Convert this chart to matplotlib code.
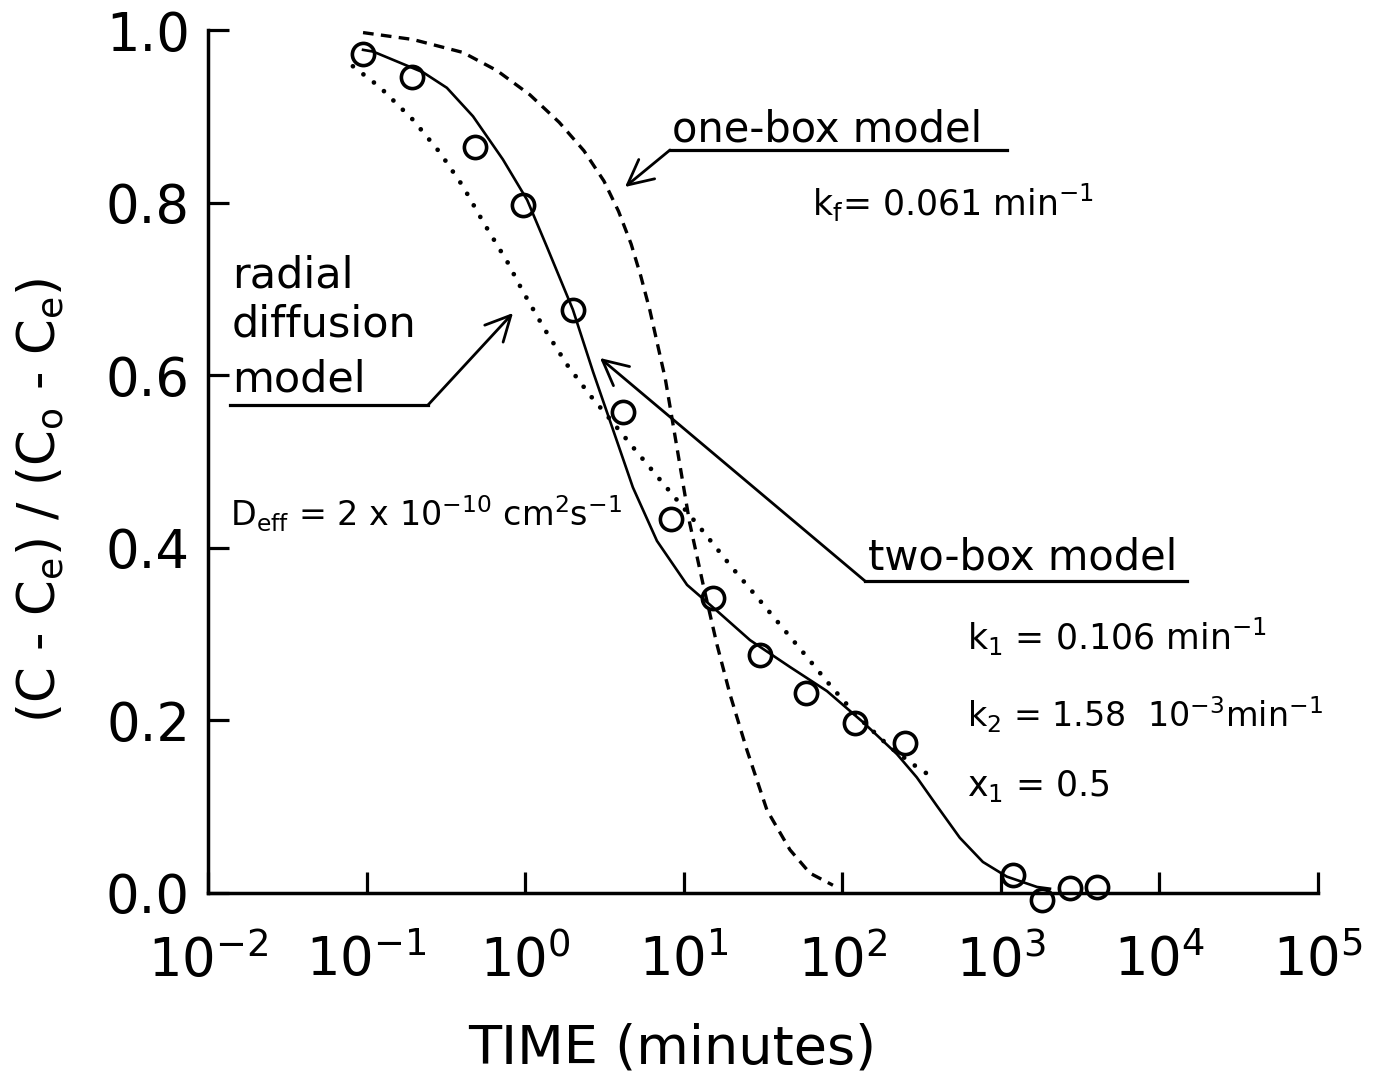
import matplotlib
matplotlib.use("Agg")
import matplotlib.pyplot as plt
from matplotlib.lines import Line2D
from matplotlib.ticker import NullLocator, FixedLocator

plt.rcParams['font.family'] = ['DejaVu Sans']
plt.rcParams['mathtext.fontset'] = 'dejavusans'

# Measured data: normalized concentration vs time (minutes)
obs_time = [0.095, 0.193, 0.482, 0.968, 2.0, 4.14, 8.3, 15.3, 30.2, 58.9,
            120, 248, 1190, 1810, 2720, 4030]
obs_conc = [0.972, 0.946, 0.865, 0.797, 0.675, 0.557, 0.433, 0.342, 0.276,
            0.232, 0.197, 0.174, 0.021, -0.008, 0.006, 0.007]

# One-box model (kf = 0.061 1/min)
onebox_time = [0.095, 0.196, 0.405, 0.664, 1.07, 1.64, 2.35, 3.14, 3.88, 4.66,
               5.36, 6.12, 6.87, 7.65, 8.35, 10.9, 13.2, 16.2, 19.6, 25.0,
               33.5, 46.8, 62.5, 87.3]
onebox_conc = [0.997, 0.989, 0.974, 0.953, 0.925, 0.893, 0.860, 0.825, 0.790,
               0.752, 0.715, 0.675, 0.634, 0.596, 0.555, 0.429, 0.359, 0.288,
               0.230, 0.166, 0.096, 0.050, 0.023, 0.009]

# Two-box model (k1, k2, x1)
twobox_time = [0.095, 0.110, 0.158, 0.227, 0.321, 0.469, 0.724, 1.03, 1.37,
               2.0, 2.68, 3.58, 4.78, 6.78, 10.5, 16.2, 26.2, 46.7, 80.0, 135,
               221, 295, 395, 551, 770, 1090, 1690, 2040]
twobox_conc = [0.977, 0.975, 0.963, 0.951, 0.933, 0.900, 0.850, 0.803, 0.749,
               0.676, 0.604, 0.537, 0.470, 0.408, 0.357, 0.327, 0.293, 0.262,
               0.234, 0.198, 0.161, 0.134, 0.101, 0.064, 0.036, 0.019, 0.007,
               0.005]

# Radial diffusion model (Deff = 2e-10 cm2/s)
radial_time = [0.082, 0.121, 0.196, 0.290, 0.405, 0.542, 0.774, 0.968, 1.33,
               1.84, 2.56, 3.58, 5.07, 7.08, 12.6, 20.2, 30.2, 46.8, 56.5,
               83.6, 124, 200, 295, 394]
radial_conc = [0.958, 0.934, 0.896, 0.858, 0.819, 0.778, 0.731, 0.697, 0.653,
               0.612, 0.577, 0.545, 0.511, 0.479, 0.424, 0.377, 0.339, 0.297,
               0.279, 0.241, 0.205, 0.169, 0.146, 0.131]

x_ticks = [1e-2, 1e-1, 1e0, 1e1, 1e2, 1e3, 1e4, 1e5]
x_ticklabels = [r'$10^{-2}$', r'$10^{-1}$', r'$10^{0}$', r'$10^{1}$',
                r'$10^{2}$', r'$10^{3}$', r'$10^{4}$', r'$10^{5}$']
y_ticks = [0.0, 0.2, 0.4, 0.6, 0.8, 1.0]
y_ticklabels = ['0.0', '0.2', '0.4', '0.6', '0.8', '1.0']

W, H = 1381, 1073
fig = plt.figure(figsize=(W / 100, H / 100), dpi=100)


def fx(px):
    return px / W


def fy(py):
    return 1 - py / H


ax = fig.add_axes([fx(208), fy(893), (1318 - 208) / W, (893 - 30) / H])
ax.set_xscale('log')
ax.set_xlim(1e-2, 1e5)
ax.set_ylim(0.0, 1.0)

ax.plot(onebox_time, onebox_conc, color='black', lw=2.4,
        linestyle=(0, (3.2, 2.2)), clip_on=False)
ax.plot(twobox_time, twobox_conc, color='black', lw=1.9, clip_on=False,
        solid_joinstyle='round')
ax.plot(radial_time, radial_conc, color='black', lw=3.4,
        linestyle=(0, (0.01, 2.8)), dash_capstyle='round', clip_on=False)
ax.plot(obs_time, obs_conc, linestyle='none', marker='o', ms=16,
        mfc='none', mec='black', mew=2.6, clip_on=False)

for side in ('top', 'right'):
    ax.spines[side].set_visible(False)
for side in ('left', 'bottom'):
    ax.spines[side].set_linewidth(2.5)

ax.xaxis.set_major_locator(FixedLocator(x_ticks))
ax.xaxis.set_minor_locator(NullLocator())
ax.set_xticklabels(x_ticklabels)
ax.set_yticks(y_ticks)
ax.set_yticklabels(y_ticklabels)
ax.tick_params(axis='both', direction='in', length=15, width=2.3,
               labelsize=38)
ax.tick_params(axis='y', pad=13)
ax.tick_params(axis='x', pad=30)

fig.text(fx(40), fy(500),
         r'(C - C$_\mathregular{e}$) / (C$_\mathregular{o}$ - C$_\mathregular{e}$)',
         rotation=90, ha='center', va='center', fontsize=37)
fig.text(fx(672), fy(1048), 'TIME (minutes)', ha='center', va='center',
         fontsize=39)


def underline(x0, x1, y):
    fig.add_artist(Line2D([fx(x0), fx(x1)], [fy(y), fy(y)],
                          transform=fig.transFigure, lw=2.3, color='black'))


def leader(start, tip):
    ax.annotate('', xy=(fx(tip[0]), fy(tip[1])), xycoords='figure fraction',
                xytext=(fx(start[0]), fy(start[1])), textcoords='figure fraction',
                arrowprops=dict(arrowstyle='->,head_length=0.9,head_width=0.45',
                                lw=2.0, color='black', shrinkA=0, shrinkB=0,
                                mutation_scale=20))


# one-box label
fig.text(fx(672), fy(142), 'one-box model', fontsize=30, ha='left',
         va='baseline')
underline(670, 1007, 150)
leader((670, 150), (625, 187))
fig.text(fx(812), fy(216), r'k$_\mathregular{f}$= 0.061 min$^\mathregular{-1}$',
         fontsize=25, ha='left', va='baseline')

# radial diffusion label
fig.text(fx(232), fy(288), 'radial', fontsize=31, ha='left', va='baseline')
fig.text(fx(232), fy(336), 'diffusion', fontsize=31, ha='left', va='baseline')
fig.text(fx(232), fy(392), 'model', fontsize=31, ha='left', va='baseline')
underline(230, 428, 405)
leader((428, 405), (513, 313))
fig.text(fx(230), fy(526),
         r'$\mathregular{D_{eff}}$ = 2 x 10$^\mathregular{-10}$ cm$^\mathregular{2}$s$^\mathregular{-1}$',
         fontsize=24, ha='left', va='baseline')

# two-box label
fig.text(fx(868), fy(570), 'two-box model', fontsize=30, ha='left',
         va='baseline')
underline(865, 1187, 581)
leader((865, 581), (600, 358))
fig.text(fx(967), fy(650), r'k$_\mathregular{1}$ = 0.106 min$^\mathregular{-1}$',
         fontsize=25, ha='left', va='baseline')
fig.text(fx(967), fy(727), r'k$_\mathregular{2}$ = 1.58  10$^\mathregular{-3}$min$^\mathregular{-1}$',
         fontsize=24, ha='left', va='baseline')
fig.text(fx(967), fy(796), r'x$_\mathregular{1}$ = 0.5',
         fontsize=25, ha='left', va='baseline')

fig.savefig('out.png', dpi=100, facecolor='white')
